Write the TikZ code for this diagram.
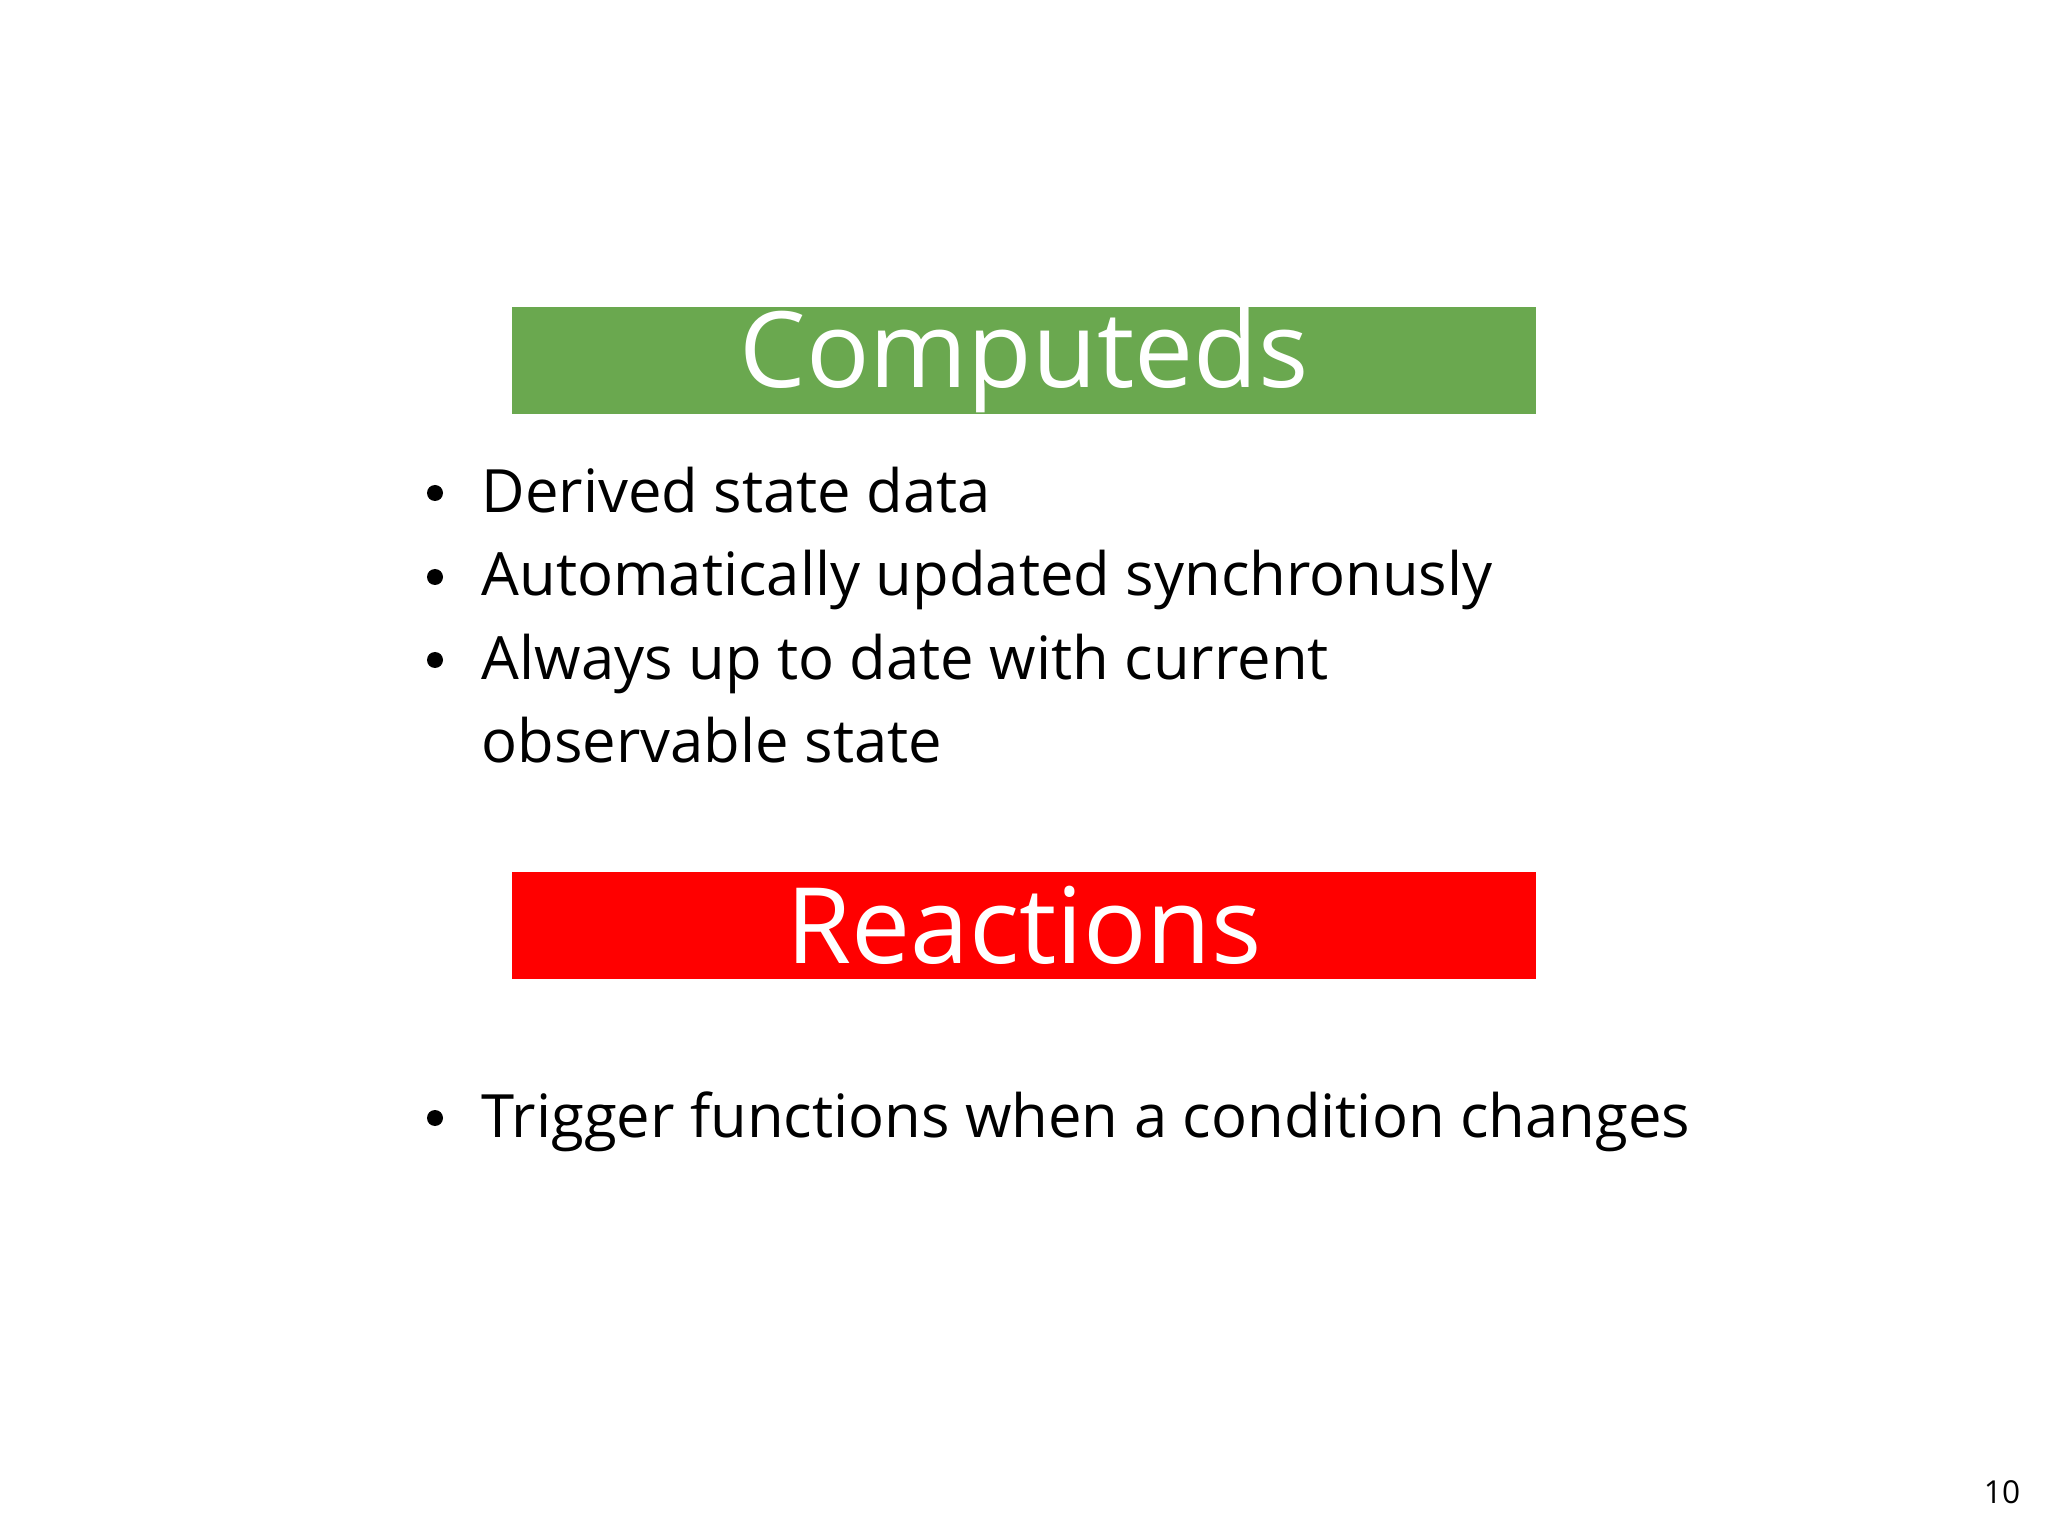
\documentclass[tikz,border=0pt]{standalone}
\usepackage{fontspec}
\setmainfont{Open Sans}
\definecolor{cgreen}{HTML}{6AA84F}
\definecolor{cred}{HTML}{FF0000}
\tikzset{
  hdr/.style={minimum width=10.24cm,minimum height=1.07cm,inner sep=0pt,text=white,font=\fontsize{30}{34}\selectfont},
  item/.style={anchor=base west,inner sep=0pt,font=\fontsize{17}{20}\selectfont},
  dot/.style={circle,fill=black,inner sep=0pt,minimum size=0.16cm}
}
\begin{document}
\begin{tikzpicture}
\useasboundingbox (0,0) rectangle (20.48,-15.36);
\node[hdr,fill=cgreen] (h1) at (10.24,-3.605) {Computeds};
\node[hdr,fill=cred] (h2) at (10.24,-9.25) {Reactions};
\node[item] (t1) at (4.81,-5.12) {Derived state data};
\node[item] (t2) at (4.81,-5.96) {Automatically updated synchronusly};
\node[item] (t3) at (4.81,-6.79) {Always up to date with current};
\node[item] (t4) at (4.81,-7.62) {observable state};
\node[item] (t5) at (4.81,-11.37) {Trigger functions when a condition changes};
\node[dot] (b1) at (4.35,-4.93) {};
\node[dot] (b2) at (4.35,-5.77) {};
\node[dot] (b3) at (4.35,-6.60) {};
\node[dot] (b5) at (4.35,-11.18) {};
\node[anchor=base,font=\fontsize{9}{10}\selectfont] (pg) at (20.02,-15.03) {10};
\end{tikzpicture}
\end{document}
